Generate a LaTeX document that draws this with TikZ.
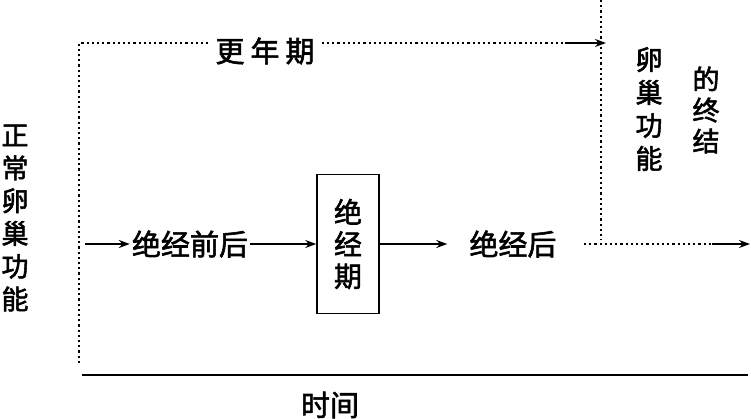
\documentclass[tikz,border=0pt]{standalone}
\usepackage{fontspec}
\newfontfamily\cjk[FakeBold=2]{Noto Sans CJK SC}
\usetikzlibrary{arrows.meta}
\begin{document}
\begin{tikzpicture}[x=1pt,y=-1pt,
  lbl/.style={font=\cjk\fontsize{29}{33}\selectfont, inner sep=2pt},
  vtxt/.style={align=center, inner sep=0pt},
  dots/.style={line width=1.9pt, dash pattern=on 2.2pt off 3pt},
  solidln/.style={line width=1.6pt},
  arr/.style={-{Stealth[length=11pt,width=8pt]}, line width=1.5pt}]
\useasboundingbox (0,0) rectangle (751,419);
% texts
\node[vtxt, font=\cjk\fontsize{27}{32.8}\selectfont] (normal) at (15,218) {正\\常\\卵\\巢\\功\\能};
\node[lbl, inner sep=7pt] (climax) at (265,51) {更\hspace{6pt}年\hspace{6pt}期};
\node[lbl] (pre) at (190,244) {绝经前后};
\node[draw, line width=1.5pt, minimum width=62pt, minimum height=139pt, inner sep=0pt,
      align=center, font=\cjk\fontsize{28}{32}\selectfont] (meno) at (348,244) {绝\\经\\期};
\node[lbl] (post) at (513,244) {绝经后};
\node[vtxt, font=\cjk\fontsize{27}{33}\selectfont] (ovary) at (649,109) {卵\\巢\\功\\能};
\node[vtxt, font=\cjk\fontsize{27}{31}\selectfont] (endt) at (706,110) {的\\终\\结};
\node[lbl] (time) at (330,405) {时间};
% coordinates
\coordinate (tl) at (79,43);
\coordinate (bl) at (79,363);
\coordinate (topdash) at (565,43);
\coordinate (toptip) at (606,43);
\coordinate (rtop) at (601,0);
\coordinate (rbot) at (601,240);
\coordinate (bstart) at (584,244);
\coordinate (bdash) at (712,244);
\coordinate (btip) at (750,244);
\coordinate (start) at (85,244);
\coordinate (ax0) at (82,375);
\coordinate (ax1) at (748,375);
% lines
\draw[dots] (bl) -- (tl) -- (tl -| climax.west);
\draw[dots] (tl -| climax.east) -- (topdash);
\draw[arr] (topdash) -- (toptip);
\draw[dots] (rtop) -- (rbot);
\draw[dots] (bstart) -- (bdash);
\draw[arr] (bdash) -- (btip);
\draw[arr] (start) -- (pre.west);
\draw[arr] (pre.east) -- (meno.west);
\draw[arr, shorten >=20pt] (meno.east) -- (post.west);
\draw[solidln] (ax0) -- (ax1);
\end{tikzpicture}
\end{document}
